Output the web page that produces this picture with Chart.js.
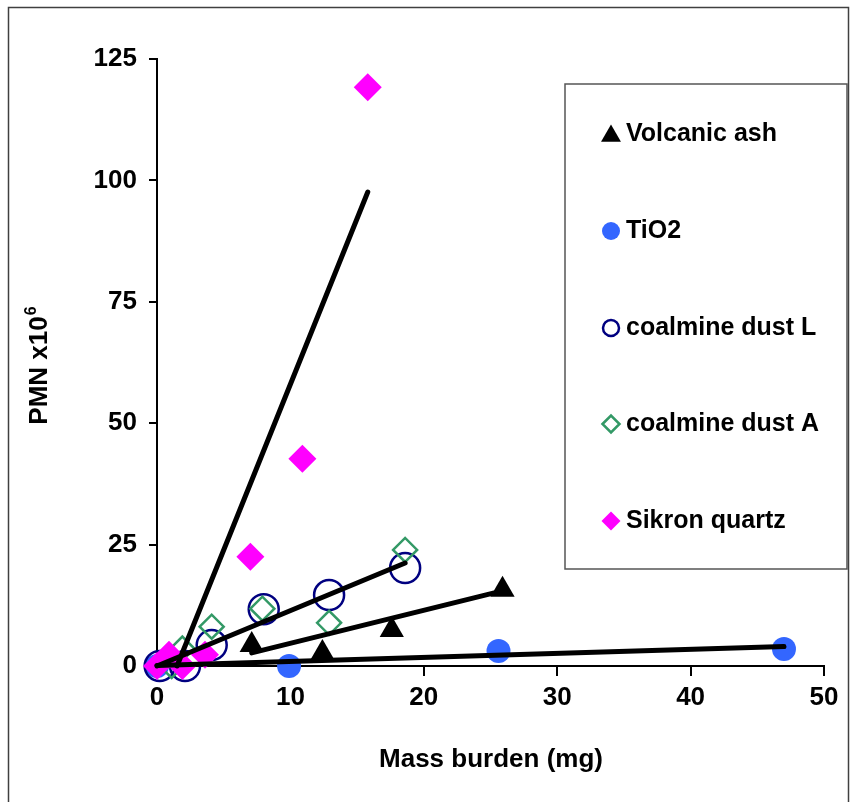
<!DOCTYPE html>
<html lang="en">
<head>
<meta charset="UTF-8">
<title>PMN vs mass burden</title>
<script src="https://cdn.jsdelivr.net/npm/chart.js"></script>
<style>
  html, body { margin: 0; padding: 0; background: #fff; }
  #wrap { width: 854px; height: 802px; }
</style>
</head>
<body>
<div id="wrap"><canvas id="myChart" width="854" height="802"></canvas></div>
<script>
  // x = mass burden (mg), y = PMN x10^6
  const volcanicX = [7.1, 12.4, 17.6, 25.9];
  const volcanicY = [4.3, 2.7, 7.4, 15.7];
  const tio2X = [0, 9.9, 25.6, 47.0];
  const tio2Y = [0, 0, 3.1, 3.5];
  const coalLX = [0.2, 2.1, 4.1, 8.0, 12.9, 18.6];
  const coalLY = [0, 0, 4.3, 11.7, 14.6, 20.2];
  const coalAX = [1.1, 1.9, 4.1, 7.9, 12.9, 18.6];
  const coalAY = [0, 3.6, 8.1, 11.8, 8.9, 23.9];
  const sikronX = [0, 0.9, 1.9, 3.6, 7.0, 10.9, 15.8];
  const sikronY = [0, 2.3, 0, 2.3, 22.5, 42.7, 119.2];

  // fitted lines, ends as drawn in the figure
  const sikronFitX = [1.5, 15.8];
  const sikronFitY = [0, 97.6];
  const coalFitX = [0, 18.6];
  const coalFitY = [0, 21.2];
  const volcanicFitX = [7.1, 25.2];
  const volcanicFitY = [2.7, 15.0];
  const tio2FitX = [0, 47.0];
  const tio2FitY = [0.1, 4.0];

  const seriesNames = ['Volcanic ash', 'TiO2', 'coalmine dust L', 'coalmine dust A', 'Sikron quartz'];
  const xTickValues = [0, 10, 20, 30, 40, 50];
  const yTickValues = [0, 25, 50, 75, 100, 125];

  const FONT = 'Arial, "Liberation Sans", sans-serif';

  function pts(xs, ys) {
    return xs.map((x, i) => ({ x: x, y: ys[i] }));
  }

  function fitLine(xs, ys) {
    return {
      data: pts(xs, ys),
      showLine: true,
      borderColor: '#000',
      borderWidth: 5,
      borderCapStyle: 'round',
      pointRadius: 0,
      fill: false,
      clip: false,
      order: 0,
      isFit: true
    };
  }

  var datasets = [
    fitLine(sikronFitX, sikronFitY),
    fitLine(coalFitX, coalFitY),
    fitLine(volcanicFitX, volcanicFitY),
    fitLine(tio2FitX, tio2FitY),
    {
      label: seriesNames[0], data: pts(volcanicX, volcanicY),
      pointStyle: 'triangle', pointRadius: 14, backgroundColor: '#000', borderColor: '#000',
      borderWidth: 0, legendRadius: 11.5, order: 5, clip: false
    },
    {
      label: seriesNames[1], data: pts(tio2X, tio2Y),
      pointStyle: 'circle', pointRadius: 12, backgroundColor: '#3366ff', borderColor: '#3366ff',
      borderWidth: 0, legendRadius: 9, order: 4, clip: false
    },
    {
      label: seriesNames[2], data: pts(coalLX, coalLY),
      pointStyle: 'circle', pointRadius: 15, backgroundColor: 'rgba(0,0,0,0)', borderColor: '#000080',
      borderWidth: 2.5, legendRadius: 8, order: 3, clip: false
    },
    {
      label: seriesNames[3], data: pts(coalAX, coalAY),
      pointStyle: 'rectRot', pointRadius: 12, backgroundColor: 'rgba(0,0,0,0)', borderColor: '#339966',
      borderWidth: 2.5, legendRadius: 8.5, order: 2, clip: false
    },
    {
      label: seriesNames[4], data: pts(sikronX, sikronY),
      pointStyle: 'rectRot', pointRadius: 14, backgroundColor: '#ff00ff', borderColor: '#ff00ff',
      borderWidth: 0, legendRadius: 9.5, order: 1, clip: false
    }
  ];

  // white page, outer frame, titles and the boxed legend
  const decor = {
    id: 'decor',
    beforeDraw(chart) {
      const ctx = chart.ctx;
      ctx.save();
      ctx.fillStyle = '#fff';
      ctx.fillRect(0, 0, chart.width, chart.height);
      ctx.strokeStyle = '#404040';
      ctx.lineWidth = 1.5;
      ctx.strokeRect(8.5, 7.5, 840, 810);
      ctx.restore();
    },
    afterDraw(chart) {
      const ctx = chart.ctx;
      ctx.save();
      ctx.fillStyle = '#000';

      // x title
      ctx.font = 'bold 26px ' + FONT;
      ctx.textAlign = 'center';
      ctx.textBaseline = 'alphabetic';
      ctx.fillText('Mass burden (mg)', 491, 767);

      // y title with superscript
      ctx.save();
      ctx.translate(47, 366);
      ctx.rotate(-Math.PI / 2);
      ctx.font = 'bold 26px ' + FONT;
      const main = 'PMN x10';
      const w1 = ctx.measureText(main).width;
      ctx.font = 'bold 16px ' + FONT;
      const w2 = ctx.measureText('6').width;
      const start = -(w1 + w2) / 2;
      ctx.textAlign = 'left';
      ctx.font = 'bold 26px ' + FONT;
      ctx.fillText(main, start, 0);
      ctx.font = 'bold 16px ' + FONT;
      ctx.fillText('6', start + w1 + 1, -11);
      ctx.restore();

      // legend box
      ctx.strokeStyle = '#555';
      ctx.lineWidth = 1.5;
      ctx.fillStyle = '#fff';
      ctx.fillRect(565, 84, 282, 485);
      ctx.strokeRect(565, 84, 282, 485);

      const rowY = [134, 231, 328, 424, 521];
      let row = 0;
      chart.data.datasets.forEach(ds => {
        if (ds.isFit) return;
        const y = rowY[row++];
        ctx.fillStyle = ds.backgroundColor;
        ctx.strokeStyle = ds.borderColor;
        ctx.lineWidth = ds.borderWidth;
        Chart.helpers.drawPoint(ctx, {
          pointStyle: ds.pointStyle,
          radius: ds.legendRadius,
          rotation: 0,
          borderWidth: ds.borderWidth
        }, 611, ds.pointStyle === 'triangle' ? y + 2 : y);
        ctx.fillStyle = '#000';
        ctx.font = 'bold 25px ' + FONT;
        ctx.textAlign = 'left';
        ctx.textBaseline = 'middle';
        ctx.fillText(ds.label, 626, y);
      });
      ctx.restore();
    }
  };

  var ctx = document.getElementById('myChart').getContext('2d');
  var myChart = new Chart(ctx, {
    type: 'scatter',
    data: { datasets: datasets },
    options: {
      responsive: false,
      animation: false,
      layout: { padding: { left: 0, top: 59, right: 30, bottom: 0 } },
      plugins: {
        legend: { display: false },
        tooltip: { enabled: false }
      },
      scales: {
        x: {
          type: 'linear',
          min: 0,
          max: 50,
          afterBuildTicks: s => { s.ticks = xTickValues.map(v => ({ value: v })); },
          afterFit: s => { s.height = 136; },
          border: { display: true, color: '#000', width: 2 },
          grid: { drawOnChartArea: false, drawTicks: true, tickLength: 10, color: '#000', lineWidth: 2 },
          ticks: { color: '#000', padding: 6, font: { family: FONT, size: 26, weight: 'bold' } }
        },
        y: {
          type: 'linear',
          min: 0,
          max: 125,
          afterBuildTicks: s => { s.ticks = yTickValues.map(v => ({ value: v })); },
          afterFit: s => { s.width = 157; },
          border: { display: true, color: '#000', width: 2 },
          grid: { drawOnChartArea: false, drawTicks: true, tickLength: 8, color: '#000', lineWidth: 2 },
          ticks: { color: '#000', padding: 12, font: { family: FONT, size: 26, weight: 'bold' } }
        }
      }
    },
    plugins: [decor]
  });
</script>
</body>
</html>
